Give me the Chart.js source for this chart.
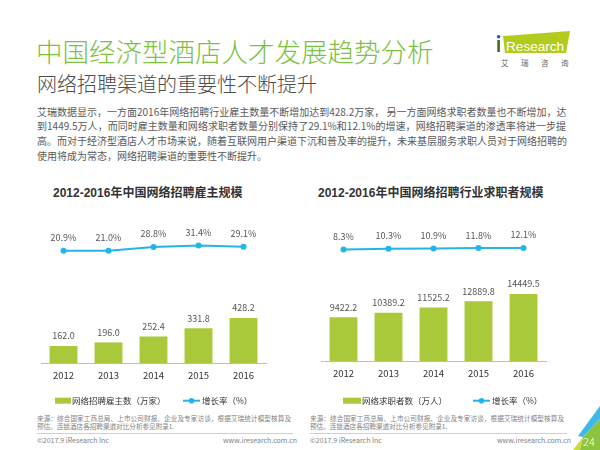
<!DOCTYPE html>
<html><head><meta charset="utf-8">
<script src="https://cdn.jsdelivr.net/npm/chart.js@4.4.0/dist/chart.umd.min.js"></script>
<style>
html,body{margin:0;padding:0;background:#fff;}
body{width:600px;height:450px;position:relative;overflow:hidden;font-family:"Noto Sans CJK SC","Noto Sans",sans-serif;}
.abs{position:absolute;white-space:nowrap;}
#t1{left:36px;top:36px;font-size:26.5px;line-height:30px;color:#7dc141;font-weight:300;}
#t2{left:37px;top:72px;font-size:20px;line-height:24px;color:#4d4d4d;font-weight:300;}
#txt{left:37px;top:104.6px;width:529px;font-size:10px;line-height:14.7px;color:#595959;}
#txt div{white-space:nowrap;text-align:justify;text-align-last:justify;}
#txt div.last{text-align-last:left;}
.ct{font-family:"Liberation Sans","Noto Sans CJK SC",sans-serif;font-size:12px;font-weight:bold;color:#333;line-height:18px;top:184px;}
.src{font-size:6.6px;line-height:7.7px;color:#7f7f7f;top:415px;width:254px;}
.src div{white-space:nowrap;text-align:justify;text-align-last:justify;}
.src div.last{text-align-last:left;}
.sep{height:1.5px;background:#cfcfcf;top:432.5px;}
.foot{font-size:7px;line-height:9px;color:#808080;top:436px;}
canvas{position:absolute;}
</style>
</head><body>
<div id="t1" class="abs">中国经济型酒店人才发展趋势分析</div>
<div id="t2" class="abs">网络招聘渠道的重要性不断提升</div>
<div id="txt" class="abs">
<div>艾瑞数据显示，一方面2016年网络招聘行业雇主数量不断增加达到428.2万家， 另一方面网络求职者数量也不断增加，达</div>
<div>到1449.5万人，而同时雇主数量和网络求职者数量分别保持了29.1%和12.1%的增速，网络招聘渠道的渗透率将进一步提</div>
<div>高。而对于经济型酒店人才市场来说，随着互联网用户渠道下沉和普及率的提升，未来基层服务求职人员对于网络招聘的</div>
<div class="last">使用将成为常态，网络招聘渠道的重要性不断提升。</div>
</div>

<svg class="abs" style="left:490px;top:26px" width="85" height="45" viewBox="490 26 85 45">
<polygon points="503,36 570,31 566,53 505,53" fill="#b2cb1c"/>
<rect x="497.3" y="40" width="2.6" height="12" fill="#4f6a14"/>
<circle cx="498.6" cy="36.8" r="1.8" fill="#1f5fae"/>
<text x="506" y="51" font-family="Liberation Sans, Arial, sans-serif" font-size="13.6" fill="#fff">Research</text>
<text x="501" y="66" font-family="Noto Sans CJK SC" font-size="7.5" fill="#666" letter-spacing="12.5">艾瑞咨询</text>
</svg>

<div class="abs ct" style="left:53px">2012-2016年中国网络招聘雇主规模</div>
<div class="abs ct" style="left:318px">2012-2016年中国网络招聘行业求职者规模</div>

<canvas id="c1" width="300" height="212" style="left:0;top:200px"></canvas>
<canvas id="c2" width="300" height="212" style="left:300px;top:200px"></canvas>

<div class="abs src" style="left:37px">
<div>来源：综合国家工商总局、上市公司财报、企业及专家访谈，根据艾瑞统计模型核算及</div>
<div class="last">预估。连锁酒店各招聘渠道对比分析参见附录1.</div>
</div>
<div class="abs src" style="left:310px">
<div>来源：综合国家工商总局、上市公司财报、企业及专家访谈，根据艾瑞统计模型核算及</div>
<div class="last">预估。连锁酒店各招聘渠道对比分析参见附录1.</div>
</div>
<div class="abs sep" style="left:37px;width:256px"></div>
<div class="abs sep" style="left:310px;width:257px"></div>
<div class="abs foot" style="left:37px">©2017.9 iResearch Inc</div>
<div class="abs foot" style="left:223px">www.iresearch.com.cn</div>
<div class="abs foot" style="left:310px">©2017.9 iResearch Inc</div>
<div class="abs foot" style="left:497px">www.iresearch.com.cn</div>

<svg class="abs" style="left:560px;top:395px" width="40" height="55" viewBox="560 395 40 55">
<polygon points="600,406 600,419 583,437 578,436" fill="#3db9e8"/>
<polygon points="600,419 600,450 580,450 583,437" fill="#8cc43f"/>
<polygon points="583,437 580,450 573,450" fill="#c9dc3c"/>
<text x="583" y="445.5" font-family="Noto Sans CJK SC" font-weight="300" font-size="11" fill="#fff">24</text>
</svg>

<script>
// ---- data ----
const years = ['2012', '2013', '2014', '2015', '2016'];
const employers = [162.0, 196.0, 252.4, 331.8, 428.2];
const employerGrowth = [20.9, 21.0, 28.8, 31.4, 29.1];
const seekers = [9422.2, 10389.2, 11525.2, 12889.8, 14449.5];
const seekerGrowth = [8.3, 10.3, 10.9, 11.8, 12.1];
const employerLabel = '网络招聘雇主数（万家）';
const seekerLabel = '网络求职者数（万人）';
const growthLabel = '增长率（%）';

const GREEN = '#a9c83a';
const BLUE = '#22b5e9';
const FONT = '"Noto Sans CJK SC", "Noto Sans", sans-serif';

const valueLabels = {
  id: 'valueLabels',
  afterDatasetsDraw(chart, args, opts) {
    const ctx = chart.ctx;
    chart.data.datasets.forEach((ds, i) => {
      const meta = chart.getDatasetMeta(i);
      ctx.save();
      ctx.font = opts.size + 'px ' + FONT;
      ctx.fillStyle = opts.color;
      ctx.textAlign = 'center';
      ctx.textBaseline = 'middle';
      meta.data.forEach((el, j) => {
        const v = ds.data[j];
        const isLine = ds.type === 'line';
        ctx.fillText(v.toFixed(1) + (isLine ? '%' : ''), el.x, el.y - (isLine ? opts.lineOffset : opts.barOffset));
      });
      ctx.restore();
    });
  }
};

const customLegend = {
  id: 'customLegend',
  afterDraw(chart, args, opts) {
    const ctx = chart.ctx;
    ctx.save();
    ctx.font = opts.size + 'px ' + FONT;
    ctx.textBaseline = 'middle';
    ctx.textAlign = 'left';
    chart.data.datasets.forEach((ds, i) => {
      const it = opts.items[i];
      const y = opts.y;
      if (ds.type === 'bar') {
        ctx.fillStyle = ds.backgroundColor;
        ctx.fillRect(it.x, y - 3, it.w, 6);
      } else {
        ctx.strokeStyle = ds.borderColor;
        ctx.lineWidth = 2;
        ctx.beginPath();
        ctx.moveTo(it.x, y);
        ctx.lineTo(it.x + it.w, y);
        ctx.stroke();
        ctx.fillStyle = ds.borderColor;
        ctx.beginPath();
        ctx.arc(it.x + it.w / 2, y, 2.8, 0, Math.PI * 2);
        ctx.fill();
      }
      ctx.fillStyle = '#333';
      ctx.fillText(ds.label, it.tx, y + 0.5);
    });
    ctx.restore();
  }
};

function makeChart(id, bars, growth, barLabel, yMax, y2Min, y2Max, pad, legendItems) {
  return new Chart(document.getElementById(id), {
    data: {
      labels: years,
      datasets: [
        { type: 'bar', label: barLabel, data: bars, backgroundColor: GREEN, yAxisID: 'y',
          barPercentage: 0.62, categoryPercentage: 1, order: 2 },
        { type: 'line', label: growthLabel, data: growth, borderColor: BLUE, backgroundColor: BLUE,
          borderWidth: 2, pointRadius: 3, pointBorderWidth: 0, pointBackgroundColor: BLUE,
          yAxisID: 'y2', tension: 0, order: 1 }
      ]
    },
    options: {
      responsive: false,
      animation: false,
      devicePixelRatio: window.devicePixelRatio || 1,
      layout: { padding: pad },
      scales: {
        x: {
          grid: { display: false, drawTicks: false },
          border: { display: true, color: '#bdbdbd', width: 1 },
          ticks: { font: { size: 9.5, family: FONT }, color: '#333', padding: 7 }
        },
        y: { display: false, min: 0, max: yMax },
        y2: { display: false, min: y2Min, max: y2Max }
      },
      plugins: {
        legend: { display: false },
        tooltip: { enabled: false },
        valueLabels: { size: 9, color: '#555', barOffset: 10, lineOffset: 13 },
        customLegend: { size: 8.5, y: 200.7, items: legendItems }
      }
    },
    plugins: [valueLabels, customLegend]
  });
}

makeChart('c1', employers, employerGrowth, employerLabel, 1400, -205, 91,
  { left: 41, right: 34, top: 16, bottom: 23.6 },
  [{ x: 55, w: 16, tx: 72 }, { x: 183, w: 17, tx: 202 }]);
makeChart('c2', seekers, seekerGrowth, seekerLabel, 31240, -270, 92,
  { left: 21, right: 54, top: 16, bottom: 25.6 },
  [{ x: 43, w: 18, tx: 62 }, { x: 173, w: 17, tx: 192 }]);
</script>
</body></html>
